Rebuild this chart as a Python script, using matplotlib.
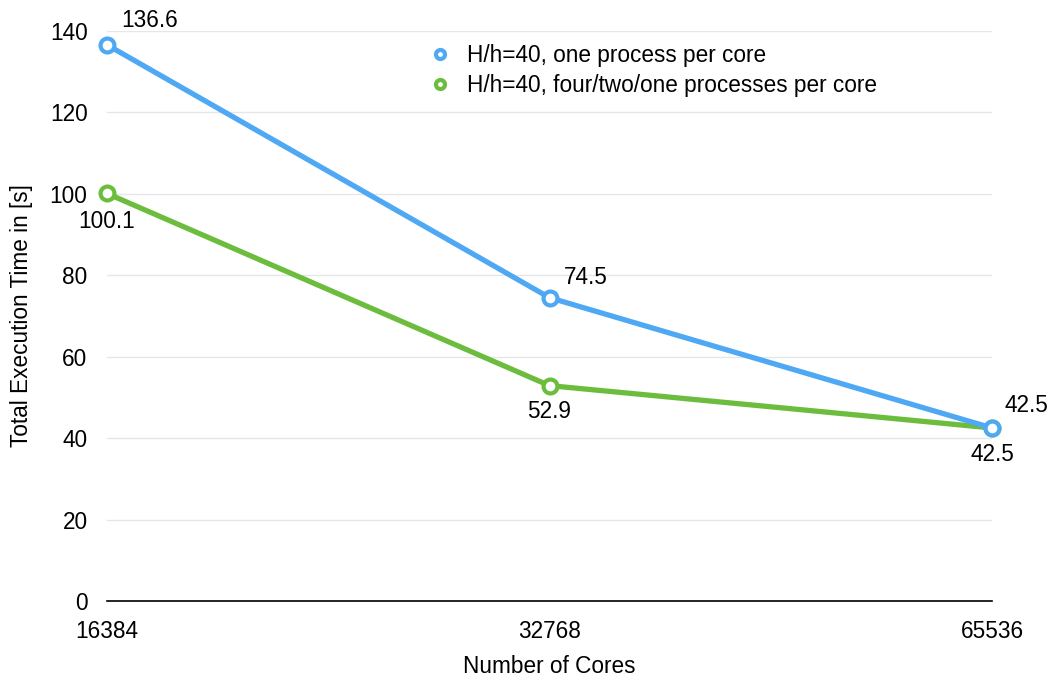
import matplotlib
matplotlib.use("Agg")
import matplotlib.pyplot as plt

cores = ["16384", "32768", "65536"]
one_per_core = [136.6, 74.5, 42.5]
multi_per_core = [100.1, 52.9, 42.5]
series_labels = ["H/h=40, one process per core", "H/h=40, four/two/one processes per core"]
yticks = [0, 20, 40, 60, 80, 100, 120, 140]

plt.rcParams['font.family'] = ['Liberation Sans', 'DejaVu Sans']

fig = plt.figure(figsize=(10.54, 6.82), dpi=100)
ax = fig.add_axes([107/1054, 81/682, (992-107)/1054, (601-31)/682])

blue = "#4FA8F4"
green = "#6CBD3D"
x = list(range(len(cores)))

ax.plot(x, one_per_core, color=blue, lw=3.8, marker='o', ms=10, mfc='white', mec=blue, mew=3,
        label=series_labels[0], zorder=4, clip_on=False)
ax.plot(x, multi_per_core, color=green, lw=3.8, marker='o', ms=10, mfc='white', mec=green, mew=3,
        label=series_labels[1], zorder=3, clip_on=False)

fs = 16.3
ax.set_xlim(0, 2)
ax.set_ylim(0, 140)
ax.set_yticks(yticks)
ax.set_xticks(x)
ax.set_xticklabels(cores)
ax.tick_params(axis='both', length=0, labelsize=fs)
ax.tick_params(axis='x', pad=14)
ax.tick_params(axis='y', pad=14)
ax.grid(axis='y', color='#e6e6e6', lw=1)
ax.set_axisbelow(True)
for s in ['top', 'right', 'left']:
    ax.spines[s].set_visible(False)
ax.spines['bottom'].set_color('black')
ax.spines['bottom'].set_linewidth(1.2)
ax.spines['bottom'].set_zorder(1)

ax.set_ylabel("Total Execution Time in [s]", fontsize=fs, labelpad=12)
ax.set_xlabel("Number of Cores", fontsize=fs, labelpad=8)

ax.annotate(f"{one_per_core[0]}", (x[0], one_per_core[0]), xytext=(10, 9), textcoords='offset points', fontsize=fs, ha='left', va='bottom')
ax.annotate(f"{multi_per_core[0]}", (x[0], multi_per_core[0]), xytext=(0, -12), textcoords='offset points', fontsize=fs, ha='center', va='top')
ax.annotate(f"{one_per_core[1]}", (x[1], one_per_core[1]), xytext=(10, 6), textcoords='offset points', fontsize=fs, ha='left', va='bottom')
ax.annotate(f"{multi_per_core[1]}", (x[1], multi_per_core[1]), xytext=(0, -10), textcoords='offset points', fontsize=fs, ha='center', va='top')
ax.annotate(f"{one_per_core[2]}", (x[2], one_per_core[2]), xytext=(9, 8), textcoords='offset points', fontsize=fs, ha='left', va='bottom')
ax.annotate(f"{multi_per_core[2]}", (x[2], multi_per_core[2]), xytext=(0, -11), textcoords='offset points', fontsize=fs, ha='center', va='top')

leg = ax.legend(loc='upper left', bbox_to_anchor=(0.343, 1.013), frameon=False, fontsize=fs,
                handlelength=0.8, handletextpad=0.8, labelspacing=0.3, markerscale=0.65)
for h in leg.legend_handles:
    h.set_linestyle('none')

fig.savefig("out.png", dpi=100, facecolor='white')
